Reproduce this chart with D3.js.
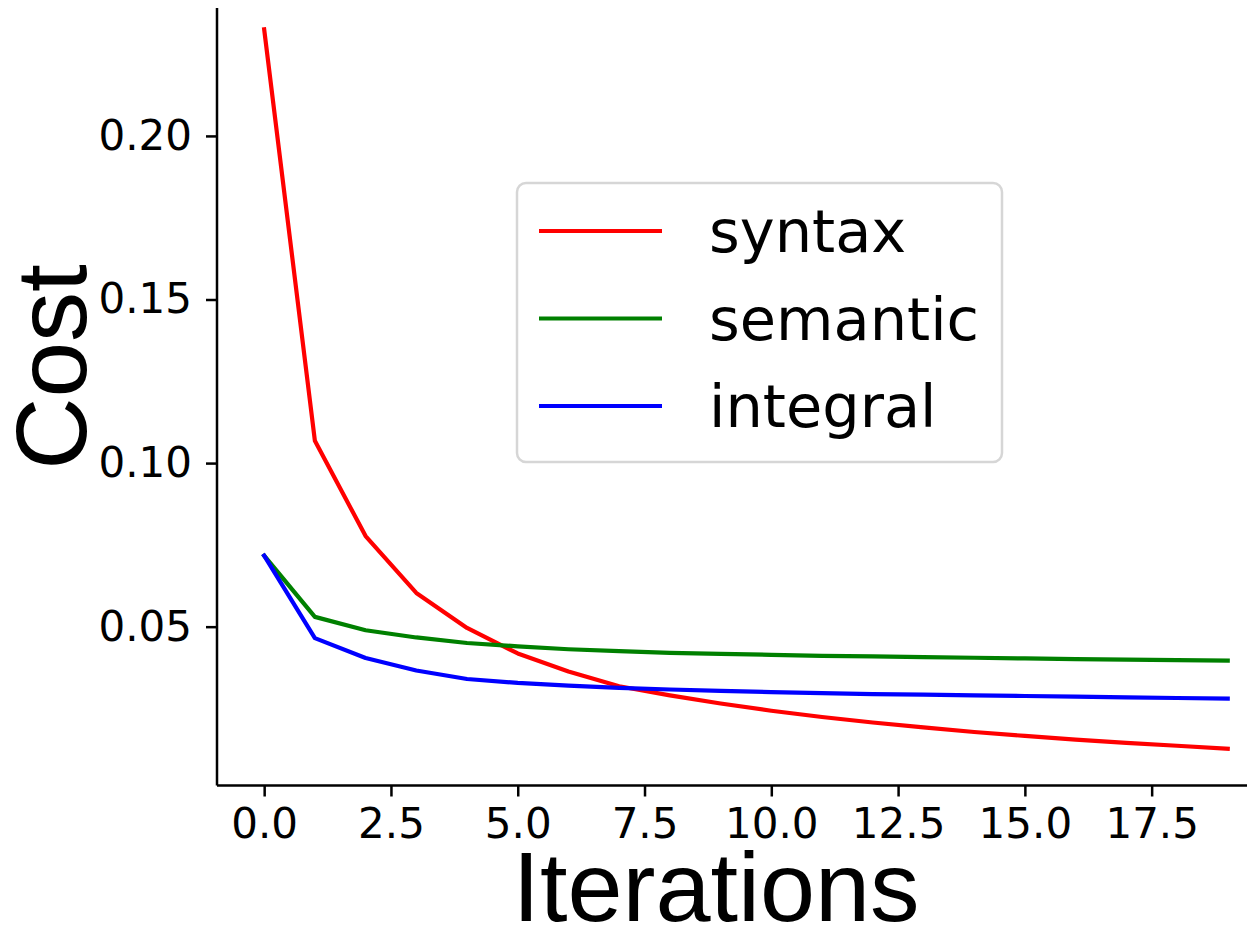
<!DOCTYPE html>
<html>
<head>
<meta charset="utf-8">
<script src="https://cdn.jsdelivr.net/npm/d3@7"></script>
<style>
html,body{margin:0;padding:0;background:#fff;}
svg{display:block;}
</style>
</head>
<body>
<svg id="chart" width="1249" height="930"></svg>
<script>
const iterations = [0,1,2,3,4,5,6,7,8,9,10,11,12,13,14,15,16,17,18,19];
const syntaxCost = [0.2326,0.1068,0.0777,0.0603,0.0496,0.0418,0.0363,0.0318,0.0290,0.0265,0.0243,0.0224,0.0207,0.0192,0.0178,0.0166,0.0155,0.0145,0.0136,0.0127];
const semanticCost = [0.0717,0.0530,0.0489,0.0467,0.0450,0.0440,0.0431,0.0425,0.0420,0.0417,0.0414,0.0411,0.0409,0.0407,0.0405,0.0403,0.0401,0.0399,0.0398,0.0396];
const integralCost = [0.0717,0.0465,0.0404,0.0366,0.0340,0.0328,0.0320,0.0313,0.0308,0.0304,0.0300,0.0297,0.0294,0.0292,0.0290,0.0288,0.0286,0.0284,0.0282,0.0280];
const seriesNames = ["syntax","semantic","integral"];
const seriesColors = ["#ff0000","#008000","#0000ff"];
const xTicks = [0,2.5,5,7.5,10,12.5,15,17.5];
const yTicks = [0.05,0.10,0.15,0.20];
const xLabel = "Iterations";
const yLabel = "Cost";

(function(){
const svg = d3.select("#chart");
const pLeft = 217, pRight = 1247, pTop = 8, pBottom = 785.5;

const x = d3.scaleLinear().domain([-0.93, 19.38]).range([pLeft, pRight]);
const y = d3.scaleLinear().domain([0.00145, 0.2391]).range([pBottom, pTop]);

const series = [syntaxCost, semanticCost, integralCost];

const line = d3.line().x((d,i)=>x(iterations[i])).y(d=>y(d));
const plot = svg.append("g");
series.forEach((vals, k) => {
  plot.append("path")
    .datum(vals)
    .attr("fill","none")
    .attr("stroke", seriesColors[k])
    .attr("stroke-width", 4.2)
    .attr("stroke-linejoin","round")
    .attr("stroke-linecap","square")
    .attr("d", line);
});

const xAxis = d3.axisBottom(x).tickValues(xTicks).tickFormat(d3.format(".1f")).tickSizeOuter(0).tickSize(11).tickPadding(12);
const yAxis = d3.axisLeft(y).tickValues(yTicks).tickFormat(d3.format(".2f")).tickSizeOuter(0).tickSize(11).tickPadding(14);

const gx = svg.append("g").attr("transform", `translate(0,${pBottom})`).call(xAxis);
const gy = svg.append("g").attr("transform", `translate(${pLeft},0)`).call(yAxis);

[gx, gy].forEach(g => {
  g.select(".domain").attr("stroke","#000").attr("stroke-width",2.5);
  g.selectAll(".tick line").attr("stroke","#000").attr("stroke-width",2.5);
  g.selectAll(".tick text").attr("fill","#000")
    .style("font-family","'DejaVu Sans', sans-serif").style("font-size","42px");
});
gx.select(".domain").attr("d", `M${pLeft},0H${pRight}`);
gy.select(".domain").attr("d", `M0,${pTop}V${pBottom}`);

svg.append("text")
  .attr("x", 716).attr("y", 921)
  .attr("text-anchor","middle")
  .style("font-family","'Liberation Sans', Arial, sans-serif")
  .style("font-size","99px")
  .attr("fill","#000")
  .text(xLabel);

svg.append("text")
  .attr("transform","translate(86,367) rotate(-90)")
  .attr("text-anchor","middle")
  .style("font-family","'Liberation Sans', Arial, sans-serif")
  .style("font-size","100px")
  .attr("fill","#000")
  .text(yLabel);

const leg = svg.append("g");
leg.append("rect")
  .attr("x",517).attr("y",183).attr("width",485).attr("height",279)
  .attr("rx",9).attr("ry",9)
  .attr("fill","#fff").attr("fill-opacity",0.8)
  .attr("stroke","#d6d6d6").attr("stroke-width",2.5);
const rowY = [231, 318.5, 406];
seriesNames.forEach((name,k) => {
  leg.append("line")
    .attr("x1",539).attr("x2",662)
    .attr("y1",rowY[k]).attr("y2",rowY[k])
    .attr("stroke",seriesColors[k]).attr("stroke-width",4.2);
  leg.append("text")
    .attr("x",709).attr("y",rowY[k]+21)
    .style("font-family","'DejaVu Sans', sans-serif")
    .style("font-size","59px")
    .attr("fill","#000")
    .text(name);
});
})();
</script>
</body>
</html>
